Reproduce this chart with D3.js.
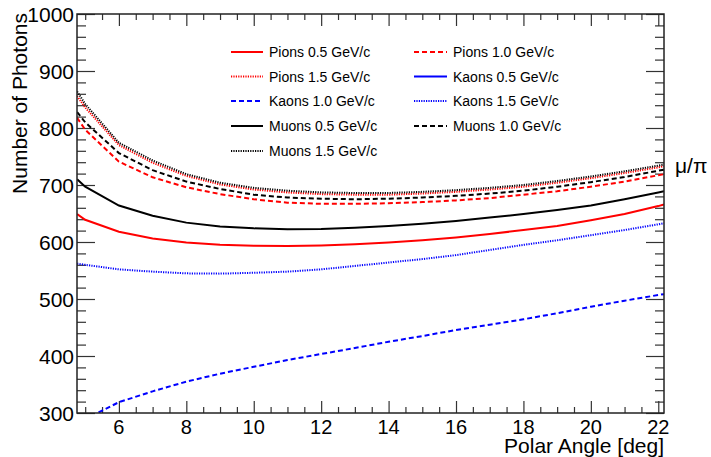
<!DOCTYPE html>
<html>
<head>
<meta charset="utf-8">
<script src="https://cdn.jsdelivr.net/npm/d3@7"></script>
<style>
  html, body { margin: 0; padding: 0; background: #fff; }
  svg { display: block; font-family: "Liberation Sans", Arial, Helvetica, sans-serif; }
</style>
</head>
<body>
<svg id="chart" width="711" height="457"></svg>
<script>
// Polar angle sampling points [deg]
const angles = [4.76, 5, 6, 7, 8, 9, 10, 11, 12, 13, 14, 15, 16, 17, 18, 19, 20, 21, 22, 22.17];

// Number of photons per particle type and momentum
const pions05  = [649, 639, 618, 606, 599, 595, 593.5, 593, 594, 596, 599, 603, 608, 614, 621, 628, 638, 649, 663, 666];
const pions10  = [818, 797, 741, 713.5, 696, 684, 675, 669, 667, 667, 668, 670, 673, 677, 683, 689, 697, 706, 717, 719];
const pions15  = [856, 836, 770, 739, 716, 701, 692, 687, 684, 683, 683, 685, 688, 692, 697, 704, 712, 721, 731, 733];
const kaons05  = [];
const kaons10  = [282, 289, 319, 338, 355, 369, 381, 393, 403.5, 414, 425, 435, 445.6, 455, 464.4, 475, 486.5, 497, 507, 508.5];
const kaons15  = [562, 560, 552, 548, 545, 544.5, 546, 548, 552, 558, 564, 570, 577, 586, 595, 603, 612, 621, 631, 633];
const muons05  = [710, 697, 664, 646, 634, 627, 624, 622.5, 623, 625, 628, 632, 637, 643, 649, 656, 664, 675, 687, 689];
const muons10  = [828, 810, 756, 726, 706, 693, 683, 678, 676, 675, 676, 678, 681, 685, 690, 697, 705, 714, 725, 727];
const muons15  = [864, 842, 774, 743, 719, 704, 695, 690, 687, 686, 686, 688, 691, 695, 700, 707, 715, 724, 734, 736];

const seriesNames = [
  "Pions 0.5 GeV/c", "Pions 1.0 GeV/c",
  "Pions 1.5 GeV/c", "Kaons 0.5 GeV/c",
  "Kaons 1.0 GeV/c", "Kaons 1.5 GeV/c",
  "Muons 0.5 GeV/c", "Muons 1.0 GeV/c",
  "Muons 1.5 GeV/c"
];
const seriesValues = [pions05, pions10, pions15, kaons05, kaons10, kaons15, muons05, muons10, muons15];
const seriesColors = ["#ff0000", "#ff0000", "#ff0000", "#0000ff", "#0000ff", "#0000ff", "#000000", "#000000", "#000000"];
const seriesStyles = ["solid", "dashed", "dotted", "solid", "dashed", "dotted", "solid", "dashed", "dotted"];

const xTicks = [6, 8, 10, 12, 14, 16, 18, 20, 22];
const yTicks = [300, 400, 500, 600, 700, 800, 900, 1000];

const dashFor = { solid: null, dashed: "5,3", dotted: "1.2,1.2" };

const svg = d3.select("#chart");
const frame = { left: 77, right: 664, top: 14, bottom: 413 };

const x = d3.scaleLinear().domain([4.757, 22.17]).range([frame.left, frame.right]);
const y = d3.scaleLinear().domain([300, 1000]).range([frame.bottom, frame.top]);

svg.append("defs").append("clipPath").attr("id", "plotclip")
  .append("rect")
  .attr("x", frame.left).attr("y", frame.top)
  .attr("width", frame.right - frame.left).attr("height", frame.bottom - frame.top);

// Minor tick positions
const xMinor = d3.range(5, 22.01, 0.5).filter(v => !xTicks.includes(v));
const yMinor = d3.range(300, 1000.01, 20).filter(v => !yTicks.includes(v));

const tickColor = "#333";
const g = svg.append("g");

// bottom and top ticks
g.append("g").attr("transform", `translate(0,${frame.bottom})`)
  .call(d3.axisBottom(x).tickValues(xTicks).tickSize(-12).tickFormat(""))
  .call(a => a.select(".domain").remove());
g.append("g").attr("transform", `translate(0,${frame.bottom})`)
  .call(d3.axisBottom(x).tickValues(xMinor).tickSize(-6).tickFormat(""))
  .call(a => a.select(".domain").remove());
g.append("g").attr("transform", `translate(0,${frame.top})`)
  .call(d3.axisTop(x).tickValues(xTicks).tickSize(-12).tickFormat(""))
  .call(a => a.select(".domain").remove());
g.append("g").attr("transform", `translate(0,${frame.top})`)
  .call(d3.axisTop(x).tickValues(xMinor).tickSize(-6).tickFormat(""))
  .call(a => a.select(".domain").remove());

// left and right ticks
g.append("g").attr("transform", `translate(${frame.left},0)`)
  .call(d3.axisLeft(y).tickValues(yTicks).tickSize(-18).tickFormat(""))
  .call(a => a.select(".domain").remove());
g.append("g").attr("transform", `translate(${frame.left},0)`)
  .call(d3.axisLeft(y).tickValues(yMinor).tickSize(-9).tickFormat(""))
  .call(a => a.select(".domain").remove());
g.append("g").attr("transform", `translate(${frame.right},0)`)
  .call(d3.axisRight(y).tickValues(yTicks).tickSize(-18).tickFormat(""))
  .call(a => a.select(".domain").remove());
g.append("g").attr("transform", `translate(${frame.right},0)`)
  .call(d3.axisRight(y).tickValues(yMinor).tickSize(-9).tickFormat(""))
  .call(a => a.select(".domain").remove());

g.selectAll(".tick line").attr("stroke", tickColor).attr("stroke-width", 1.2);

// tick labels
svg.append("g").selectAll("text").data(xTicks).join("text")
  .attr("x", d => x(d)).attr("y", 433.5)
  .attr("text-anchor", "middle").attr("font-size", 20).attr("fill", "#000")
  .text(d => d);
svg.append("g").selectAll("text").data(yTicks).join("text")
  .attr("x", 74).attr("y", d => y(d) + 7.5)
  .attr("text-anchor", "end").attr("font-size", 21).attr("fill", "#000")
  .text(d => d);

// axis titles
svg.append("text")
  .attr("x", frame.right).attr("y", 453)
  .attr("text-anchor", "end").attr("font-size", 21)
  .text("Polar Angle [deg]");
svg.append("text")
  .attr("transform", `translate(26.5,${frame.top - 1}) rotate(-90)`)
  .attr("text-anchor", "end").attr("font-size", 21)
  .text("Number of Photons");

// curves
const line = d3.line().x(d => x(d[0])).y(d => y(d[1]));
const plot = svg.append("g").attr("clip-path", "url(#plotclip)");
seriesValues.forEach((vals, i) => {
  if (!vals.length) return;
  const pts = vals.map((v, k) => [angles[k], v]);
  plot.append("path")
    .attr("d", line(pts))
    .attr("fill", "none")
    .attr("stroke", seriesColors[i])
    .attr("stroke-width", 2)
    .attr("stroke-dasharray", dashFor[seriesStyles[i]]);
});

// frame
svg.append("rect")
  .attr("x", frame.left).attr("y", frame.top)
  .attr("width", frame.right - frame.left).attr("height", frame.bottom - frame.top)
  .attr("fill", "none").attr("stroke", "#222").attr("stroke-width", 1.5);

// legend
const legCols = [{ x0: 231, x1: 263, tx: 269 }, { x0: 414, x1: 447, tx: 453 }];
const legRowY = [52, 76.5, 101, 126, 151];
seriesNames.forEach((name, i) => {
  const col = legCols[i % 2];
  const ry = legRowY[Math.floor(i / 2)];
  svg.append("line")
    .attr("x1", col.x0).attr("x2", col.x1).attr("y1", ry).attr("y2", ry)
    .attr("stroke", seriesColors[i]).attr("stroke-width", 2)
    .attr("stroke-dasharray", dashFor[seriesStyles[i]]);
  svg.append("text")
    .attr("x", col.tx).attr("y", ry + 5)
    .attr("font-size", 14).attr("fill", "#000")
    .text(name);
});

// ratio label at the right margin
svg.append("text")
  .attr("x", 675).attr("y", 173)
  .attr("font-size", 21).attr("fill", "#000")
  .text("μ/π");
</script>
</body>
</html>
